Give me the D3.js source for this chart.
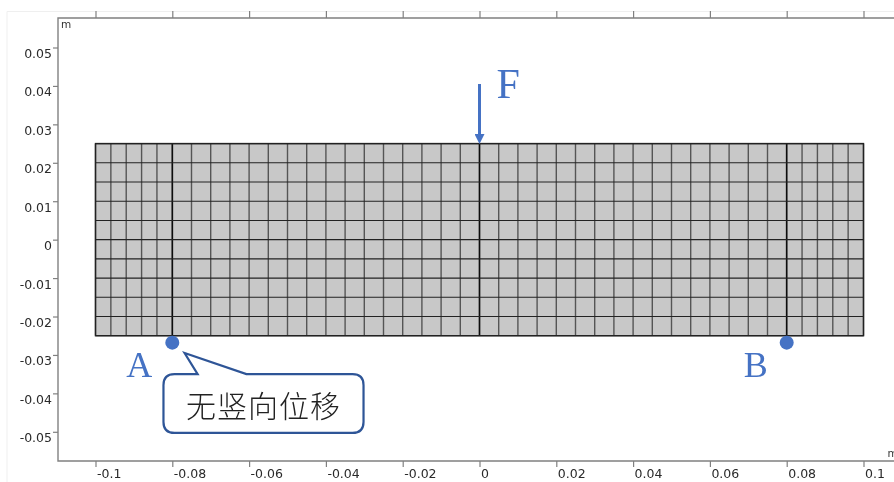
<!DOCTYPE html>
<html>
<head>
<meta charset="utf-8">
<script src="https://cdn.jsdelivr.net/npm/d3@7"></script>
<style>
  html, body { margin: 0; padding: 0; background: #fff; overflow: hidden; }
  svg { display: block; }
</style>
</head>
<body>
<div id="chart"></div>
<script>
const xTicks = [-0.1, -0.08, -0.06, -0.04, -0.02, 0, 0.02, 0.04, 0.06, 0.08, 0.1];
const yTicks = [0.05, 0.04, 0.03, 0.02, 0.01, 0, -0.01, -0.02, -0.03, -0.04, -0.05];

// mesh lines of the beam, metres
const meshX = [-0.1, -0.096, -0.092, -0.088, -0.084, -0.08, -0.075, -0.07, -0.065, -0.06,
  -0.055, -0.05, -0.045, -0.04, -0.035, -0.03, -0.025, -0.02, -0.015, -0.01, -0.005, 0,
  0.005, 0.01, 0.015, 0.02, 0.025, 0.03, 0.035, 0.04, 0.045, 0.05, 0.055, 0.06, 0.065,
  0.07, 0.075, 0.08, 0.084, 0.088, 0.092, 0.096, 0.1];
const meshY = [0.025, 0.02, 0.015, 0.01, 0.005, 0, -0.005, -0.01, -0.015, -0.02, -0.025];
const heavyX = [-0.08, 0, 0.08];

const supports = [-0.08, 0.08];
const supportY = -0.0268;
const supportLabels = ["A", "B"];
const forceLine = [0.0405, 0.0262];
const calloutText = "无竖向位移";

const width = 894;
const height = 482;
const blue = "#4472c4";
const axisGrey = "#808080";

const x = d3.scaleLinear().domain([-0.1, 0.1]).range([95.5, 863.5]);
const y = d3.scaleLinear().domain([-0.05, 0.05]).range([431.8, 47.5]);

const svg = d3
  .select("#chart")
  .append("svg")
  .attr("width", width)
  .attr("height", height);

const defs = svg.append("defs");
defs.append("filter").attr("id", "soft")
  .append("feGaussianBlur").attr("stdDeviation", 0.35);
defs.append("marker")
  .attr("id", "head")
  .attr("markerUnits", "userSpaceOnUse")
  .attr("viewBox", "0 0 10 10")
  .attr("refX", 5).attr("refY", 5)
  .attr("markerWidth", 10).attr("markerHeight", 10)
  .attr("orient", "auto")
  .append("path").attr("d", "M0,0L10,5L0,10Z").attr("fill", blue);

const root = svg.append("g").attr("filter", "url(#soft)");

// faint frame of the screenshot
root.append("path")
  .attr("d", "M7,482V11.5H894")
  .attr("fill", "none")
  .attr("stroke", "#efefef");

// plot box
root.append("path")
  .attr("d", "M894,18H58V461H894")
  .attr("fill", "none")
  .attr("stroke", axisGrey)
  .attr("stroke-width", 1.4);

const fmt = (d) => String(d);

const bottomAxis = root.append("g")
  .attr("transform", "translate(0,461)")
  .call(d3.axisBottom(x).tickValues(xTicks).tickFormat(fmt).tickSize(6).tickPadding(0));
bottomAxis.select(".domain").remove();
bottomAxis.selectAll("line").attr("stroke", axisGrey).attr("stroke-width", 1.2);
bottomAxis.selectAll("text")
  .attr("text-anchor", "start")
  .attr("x", 1)
  .attr("dy", "0.9em");

const topAxis = root.append("g")
  .attr("transform", "translate(0,18)")
  .call(d3.axisTop(x).tickValues(xTicks).tickFormat("").tickSize(7));
topAxis.select(".domain").remove();
topAxis.selectAll("line").attr("stroke", axisGrey).attr("stroke-width", 1.2);

const leftAxis = root.append("g")
  .attr("transform", "translate(58,0)")
  .call(d3.axisLeft(y).tickValues(yTicks).tickFormat(fmt).tickSize(5).tickPadding(1));
leftAxis.select(".domain").remove();
leftAxis.selectAll("line").attr("stroke", axisGrey).attr("stroke-width", 1.2);
leftAxis.selectAll("text").attr("dy", "0.8em");

root.selectAll(".tick text")
  .attr("font-family", "'DejaVu Sans'")
  .attr("font-size", 12.5)
  .attr("fill", "#2a2a2a");

root.append("text").attr("x", 61).attr("y", 27.5)
  .attr("font-family", "'DejaVu Sans'").attr("font-size", 10.5).attr("fill", "#333").text("m");
root.append("text").attr("x", 887.5).attr("y", 457)
  .attr("font-family", "'DejaVu Sans'").attr("font-size", 10.5).attr("fill", "#333").text("m");

// beam
root.append("rect")
  .attr("x", x(-0.1))
  .attr("y", y(0.025))
  .attr("width", x(0.1) - x(-0.1))
  .attr("height", y(-0.025) - y(0.025))
  .attr("fill", "#c8c8c8");

root.selectAll(".mx")
  .data(meshX)
  .enter()
  .append("line")
  .attr("x1", (d) => x(d)).attr("x2", (d) => x(d))
  .attr("y1", y(0.025)).attr("y2", y(-0.025))
  .attr("stroke", (d) => (heavyX.includes(d) ? "#111" : "#555"))
  .attr("stroke-width", (d) => (heavyX.includes(d) ? 1.7 : 1.4));

root.selectAll(".my")
  .data(meshY)
  .enter()
  .append("line")
  .attr("x1", x(-0.1)).attr("x2", x(0.1))
  .attr("y1", (d) => y(d)).attr("y2", (d) => y(d))
  .attr("stroke", "#222")
  .attr("stroke-width", 1.1);

root.append("rect")
  .attr("x", x(-0.1))
  .attr("y", y(0.025))
  .attr("width", x(0.1) - x(-0.1))
  .attr("height", y(-0.025) - y(0.025))
  .attr("fill", "none")
  .attr("stroke", "#222")
  .attr("stroke-width", 1.4);

// supports
root.selectAll(".support")
  .data(supports)
  .enter()
  .append("circle")
  .attr("cx", (d) => x(d))
  .attr("cy", y(supportY))
  .attr("r", 7)
  .attr("fill", blue);

const serifLabel = (px, py, s, size) =>
  root.append("text")
    .attr("x", px).attr("y", py)
    .attr("font-family", "'Liberation Serif'")
    .attr("font-size", size)
    .attr("fill", blue)
    .text(s);

serifLabel(x(-0.08) - 46, 377, supportLabels[0], 36);
serifLabel(x(0.08) - 43, 377, supportLabels[1], 36);
serifLabel(x(0) + 17, 98, "F", 42);

// force arrow
root.append("line")
  .attr("x1", x(0)).attr("x2", x(0))
  .attr("y1", y(forceLine[0])).attr("y2", y(forceLine[1]))
  .attr("stroke", blue)
  .attr("stroke-width", 3)
  .attr("marker-end", "url(#head)");

// callout
const bx0 = x(-0.0823), bx1 = x(-0.0302);
const by0 = y(-0.035), by1 = y(-0.0503);
const r = 11;
const tail = d3.path();
tail.moveTo(bx0 + r, by0);
tail.lineTo(x(-0.0734), by0);
tail.lineTo(x(-0.0768), y(-0.0295));
tail.lineTo(x(-0.0607), by0);
tail.lineTo(bx1 - r, by0);
tail.quadraticCurveTo(bx1, by0, bx1, by0 + r);
tail.lineTo(bx1, by1 - r);
tail.quadraticCurveTo(bx1, by1, bx1 - r, by1);
tail.lineTo(bx0 + r, by1);
tail.quadraticCurveTo(bx0, by1, bx0, by1 - r);
tail.lineTo(bx0, by0 + r);
tail.quadraticCurveTo(bx0, by0, bx0 + r, by0);
tail.closePath();

root.append("path")
  .attr("d", tail.toString())
  .attr("fill", "#fff")
  .attr("stroke", "#2f5597")
  .attr("stroke-width", 2.2);

root.append("text")
  .attr("x", (bx0 + bx1) / 2)
  .attr("y", 417)
  .attr("text-anchor", "middle")
  .attr("font-family", "'Noto Sans CJK SC'")
  .attr("font-weight", 300)
  .attr("font-size", 30)
  .attr("letter-spacing", 1)
  .attr("fill", "#222")
  .text(calloutText);
</script>
</body>
</html>
